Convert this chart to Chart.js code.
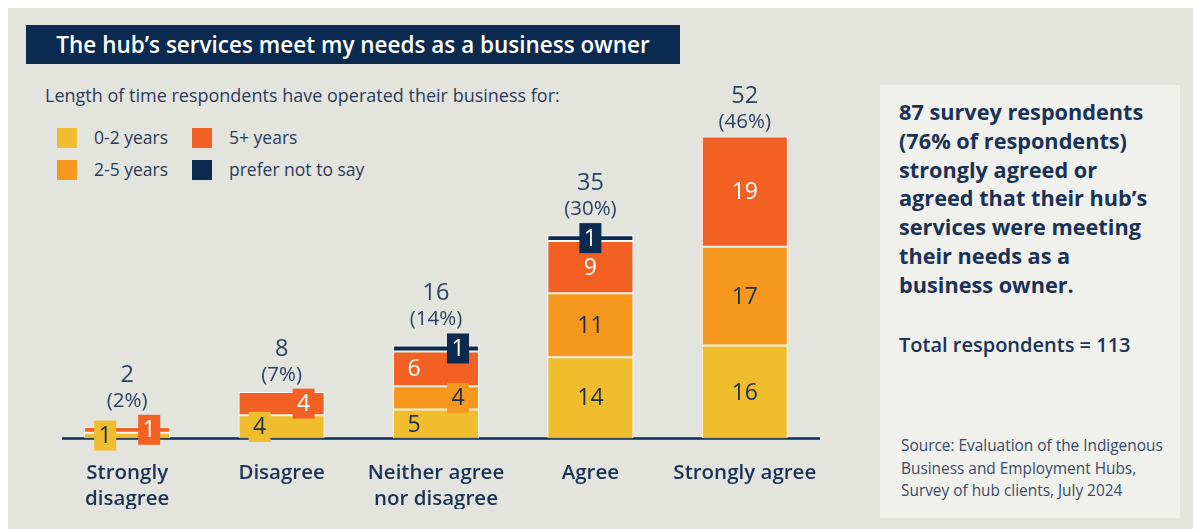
<!DOCTYPE html>
<html>
<head>
<meta charset="utf-8">
<title>Hub services survey</title>
<script src="https://cdn.jsdelivr.net/npm/chart.js@4.4.1/dist/chart.umd.min.js"></script>
<style>
  body { margin: 0; background: #fff; font-family: 'Open Sans', sans-serif; color: #1d3456; }
  #page { position: relative; width: 1193px; height: 529px; overflow: hidden; }
  #bg { position: absolute; left: 8px; top: 8px; right: 0; bottom: 0; background: #e4e4df; }
  #title { position: absolute; left: 26px; top: 25px; width: 654px; height: 39px; background: #0c2a4f;
    color: #fff; font-weight: 600; font-size: 22.5px; line-height: 39px; text-align: center; }
  #subtitle { position: absolute; left: 45px; top: 83px; font-size: 18px; color: #2b3c58; white-space: nowrap; }
  .key { position: absolute; font-size: 17.5px; color: #2b3c58; line-height: 20px; white-space: nowrap; }
  .key span { position: absolute; left: 0; top: 0; width: 20px; height: 20px; }
  .key b { font-weight: 400; position: absolute; left: 37px; top: -1px; }
  #chartBox { position: absolute; left: 0; top: 0; width: 870px; height: 529px; }
  #panel { position: absolute; left: 880px; top: 85px; width: 300px; height: 433px; background: #f0f0ec; }
  #headline { position: absolute; left: 19px; top: 13px; font-size: 21.7px; font-weight: 700; line-height: 28.8px; color: #1a3256; white-space: nowrap; }
  #total { position: absolute; left: 19px; top: 246px; font-size: 20px; font-weight: 600; color: #1a3256; white-space: nowrap; }
  #source { position: absolute; left: 21px; top: 350px; font-size: 15.4px; line-height: 22.5px; color: #3a4b68; white-space: nowrap; }
</style>
</head>
<body>
<div id="page">
  <div id="bg"></div>
  <div id="title">The hub’s services meet my needs as a business owner</div>
  <div id="subtitle">Length of time respondents have operated their business for:</div>
  <div id="legend"></div>
  <div id="chartBox"><canvas id="chart" width="870" height="529"></canvas></div>
  <div id="panel">
    <div id="headline">87 survey respondents<br>(76% of respondents)<br>strongly agreed or<br>agreed that their hub’s<br>services were meeting<br>their needs as a<br>business owner.</div>
    <div id="total">Total respondents = 113</div>
    <div id="source">Source: Evaluation of the Indigenous<br>Business and Employment Hubs,<br>Survey of hub clients, July 2024</div>
  </div>
</div>
<script>
// answers, one stacked bar each
const categories = [['Strongly', 'disagree'], 'Disagree', ['Neither agree', 'nor disagree'], 'Agree', 'Strongly agree'];
// respondents per answer, split by how long they have run their business
const years0to2 = [1, 4, 5, 14, 16];
const years2to5 = [0, 0, 4, 11, 17];
const years5plus = [1, 4, 6, 9, 19];
const preferNot = [0, 0, 1, 1, 0];
// share of all respondents, as printed above each bar
const shareLabels = ['2%', '7%', '14%', '30%', '46%'];

const seriesNames = ['0-2 years', '2-5 years', '5+ years', 'prefer not to say'];
const seriesColors = ['#f0bd2e', '#f7981e', '#f26023', '#0c2a4f'];
const textColors = ['#1c2f4d', '#1c2f4d', '#ffffff', '#ffffff'];

// where each segment number sits: C/L/R = centre/left/right, * = drawn on a small tag
const labelSpots = [
  ['L*', 'L*', 'L', 'C', 'C'],
  ['', '', 'R*', 'C', 'C'],
  ['R*', 'R*', 'L', 'C', 'C'],
  ['', '', 'R*', 'C*', '']
];

// legend, two columns
const legendSpots = [[57, 128], [57, 160], [192, 128], [192, 160]];
const legend = document.getElementById('legend');
seriesNames.forEach((name, i) => {
  const el = document.createElement('div');
  el.className = 'key';
  el.style.left = legendSpots[i][0] + 'px';
  el.style.top = legendSpots[i][1] + 'px';
  el.innerHTML = `<span style="background:${seriesColors[i]}"></span><b>${name}</b>`;
  legend.appendChild(el);
});

const navy = '#0f2b50';

const barLabels = {
  id: 'barLabels',
  beforeDatasetsDraw(chart) {
    const { ctx, scales } = chart;
    const y = scales.y.getPixelForValue(0);
    ctx.save();
    ctx.strokeStyle = navy;
    ctx.lineWidth = 2.5;
    ctx.beginPath();
    ctx.moveTo(62, y);
    ctx.lineTo(820, y);
    ctx.stroke();
    ctx.restore();
  },
  afterDatasetsDraw(chart) {
    const ctx = chart.ctx;
    const tops = categories.map(() => Infinity);
    const totals = categories.map(() => 0);
    ctx.save();
    ctx.textAlign = 'center';
    ctx.textBaseline = 'middle';
    ctx.font = '23px "Open Sans"';
    chart.data.datasets.forEach((ds, di) => {
      const meta = chart.getDatasetMeta(di);
      meta.data.forEach((bar, ci) => {
        const v = ds.data[ci];
        totals[ci] += v;
        tops[ci] = Math.min(tops[ci], bar.y);
        if (!v) return;
        const spot = labelSpots[di][ci];
        const dx = spot[0] === 'L' ? -22 : spot[0] === 'R' ? 22 : 0;
        const x = bar.x + dx;
        const y = (bar.y + bar.base) / 2;
        if (spot.includes('*')) {
          ctx.fillStyle = ds.backgroundColor;
          ctx.fillRect(x - 11, y - 15, 22, 30);
          tops[ci] = Math.min(tops[ci], y - 15);
        }
        ctx.fillStyle = textColors[di];
        ctx.fillText(String(v), x, y + 1);
      });
    });
    // totals and shares above each bar
    ctx.textBaseline = 'alphabetic';
    ctx.fillStyle = '#2e4262';
    const meta0 = chart.getDatasetMeta(0);
    categories.forEach((c, ci) => {
      const x = meta0.data[ci].x;
      const base = tops[ci] - 8;
      ctx.font = '20.5px "Open Sans"';
      ctx.fillText('(' + shareLabels[ci] + ')', x, base);
      ctx.font = '23.5px "Open Sans"';
      ctx.fillText(String(totals[ci]), x, base - 25);
    });
    ctx.restore();
  }
};

const series = [years0to2, years2to5, years5plus, preferNot];

new Chart(document.getElementById('chart'), {
  type: 'bar',
  data: {
    labels: categories,
    datasets: series.map((data, i) => ({
      label: seriesNames[i],
      data,
      backgroundColor: seriesColors[i],
      borderColor: 'rgba(255,255,255,0.9)',
      borderWidth: 1,
      borderSkipped: false,
      barPercentage: 1,
      categoryPercentage: 0.557
    }))
  },
  options: {
    responsive: false,
    animation: false,
    events: [],
    layout: { padding: { left: 50, right: 48, top: 90, bottom: 20 } },
    plugins: { legend: { display: false }, tooltip: { enabled: false } },
    scales: {
      x: {
        stacked: true,
        grid: { display: false, drawTicks: false },
        border: { display: false },
        ticks: {
          padding: 21,
          color: '#1a3256',
          font: { family: 'Open Sans', size: 20.5, weight: '600', lineHeight: 1.3 }
        },
        afterFit(scale) { scale.height = 70.5; }
      },
      y: {
        stacked: true,
        display: false,
        min: 0,
        max: 60
      }
    }
  },
  plugins: [barLabels]
});
</script>
</body>
</html>
